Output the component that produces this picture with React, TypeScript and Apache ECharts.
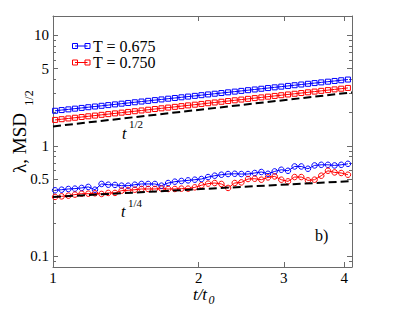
import React, { useEffect, useRef } from 'react';
import * as echarts from 'echarts';

// ---- data ----
const tValues = [1.01, 1.042, 1.076, 1.11, 1.146, 1.183, 1.221, 1.26, 1.301, 1.343, 1.386, 1.43, 1.476, 1.524, 1.573, 1.624, 1.676, 1.73, 1.786, 1.843, 1.902, 1.964, 2.027, 2.092, 2.159, 2.229, 2.301, 2.375, 2.451, 2.53, 2.612, 2.696, 2.782, 2.872, 2.964, 3.06, 3.158, 3.26, 3.365, 3.473, 3.585, 3.701, 3.82, 3.943, 4.07];

const msdBlue = [2.079, 2.11, 2.141, 2.173, 2.206, 2.239, 2.272, 2.306, 2.34, 2.375, 2.41, 2.446, 2.483, 2.52, 2.557, 2.596, 2.634, 2.674, 2.714, 2.754, 2.795, 2.837, 2.879, 2.922, 2.966, 3.01, 3.055, 3.1, 3.147, 3.194, 3.241, 3.29, 3.339, 3.389, 3.439, 3.49, 3.542, 3.595, 3.649, 3.703, 3.758, 3.814, 3.871, 3.929, 3.987];

const msdRed = [1.718, 1.744, 1.771, 1.798, 1.825, 1.853, 1.881, 1.91, 1.939, 1.969, 1.999, 2.029, 2.06, 2.092, 2.124, 2.156, 2.189, 2.222, 2.256, 2.291, 2.326, 2.361, 2.397, 2.434, 2.471, 2.509, 2.547, 2.586, 2.626, 2.666, 2.707, 2.748, 2.79, 2.833, 2.876, 2.92, 2.964, 3.01, 3.056, 3.102, 3.15, 3.198, 3.247, 3.296, 3.347];

const lambdaBlue = [0.396, 0.401, 0.407, 0.41, 0.416, 0.425, 0.401, 0.452, 0.445, 0.443, 0.436, 0.436, 0.445, 0.452, 0.452, 0.452, 0.436, 0.461, 0.474, 0.481, 0.487, 0.494, 0.501, 0.522, 0.537, 0.548, 0.556, 0.559, 0.556, 0.556, 0.568, 0.58, 0.559, 0.587, 0.608, 0.595, 0.651, 0.651, 0.621, 0.665, 0.674, 0.674, 0.665, 0.674, 0.688];

const lambdaRed = [0.345, 0.349, 0.354, 0.362, 0.369, 0.369, 0.372, 0.367, 0.375, 0.375, 0.393, 0.396, 0.401, 0.407, 0.407, 0.407, 0.41, 0.407, 0.407, 0.41, 0.41, 0.421, 0.44, 0.455, 0.461, 0.452, 0.416, 0.461, 0.467, 0.501, 0.504, 0.494, 0.518, 0.529, 0.494, 0.477, 0.522, 0.522, 0.487, 0.494, 0.537, 0.595, 0.575, 0.568, 0.548];

const guideT = [1, 4.15];
const guideHalf = [1.5, 3.05];
const guideQuarter = [0.345, 0.48];

const xRange = [1, 4.15];
const yRange = [0.08, 15];
const xTickValues = [1, 2, 3, 4];
const xTickLabels = ['1', '2', '3', '4'];
const yTickValues = [0.1, 0.5, 1, 5, 10];
const yTickLabels = ['0.1', '0.5', '1', '5', '10'];
const yMinorTicks = [0.09, 0.2, 0.3, 0.4, 0.6, 0.7, 0.8, 0.9, 2, 3, 4, 6, 7, 8, 9];

const seriesNames = ['T = 0.675', 'T = 0.750'];

// ---- helpers ----
const lg = (v: number) => Math.log10(v);
const FONT = 'Liberation Serif, Times New Roman, serif';
const AXIS_COLOR = '#6a6a6a';
const BLUE = '#0000ff';
const RED = '#ff0000';

function labelFor(v: number, values: number[], labels: string[]) {
  let best = 0;
  let d = Infinity;
  values.forEach((x, i) => {
    const dd = Math.abs(lg(x) - v);
    if (dd < d) {
      d = dd;
      best = i;
    }
  });
  return labels[best];
}

function xAxisCfg(position: string, showLabel: boolean) {
  return {
    type: 'value',
    position,
    min: lg(xRange[0]),
    max: lg(xRange[1]),
    axisLine: { show: true, onZero: false, lineStyle: { color: AXIS_COLOR, width: 1 } },
    axisTick: {
      show: true,
      inside: true,
      length: 5,
      customValues: xTickValues.map(lg),
      lineStyle: { color: AXIS_COLOR, width: 1 },
    },
    axisLabel: {
      show: showLabel,
      customValues: xTickValues.map(lg),
      formatter: (v: number) => labelFor(v, xTickValues, xTickLabels),
      margin: 3,
      fontSize: 15,
      fontFamily: FONT,
      color: '#000',
    },
    splitLine: { show: false },
  };
}

function yAxisCfg(position: string, showLabel: boolean, minor: boolean) {
  const ticks = minor ? yMinorTicks : yTickValues;
  return {
    type: 'value',
    position,
    min: lg(yRange[0]),
    max: lg(yRange[1]),
    axisLine: { show: !minor, onZero: false, lineStyle: { color: AXIS_COLOR, width: 1 } },
    axisTick: {
      show: true,
      inside: true,
      length: minor ? 3 : 5,
      customValues: ticks.map(lg),
      lineStyle: { color: AXIS_COLOR, width: 1 },
    },
    axisLabel: {
      show: showLabel,
      customValues: ticks.map(lg),
      formatter: (v: number) => labelFor(v, yTickValues, yTickLabels),
      margin: 4,
      fontSize: 15,
      fontFamily: FONT,
      color: '#000',
    },
    splitLine: { show: false },
  };
}

function pts(ys: number[]) {
  return tValues.map((t, i) => [lg(t), lg(ys[i])]);
}

function dataSeries(name: string, ys: number[], color: string, symbol: string, size: number) {
  return {
    name,
    type: 'line',
    xAxisIndex: 0,
    yAxisIndex: 0,
    data: pts(ys),
    symbol,
    symbolSize: size,
    showSymbol: true,
    lineStyle: { color, width: 1 },
    itemStyle: { color: 'rgba(0,0,0,0)', borderColor: color, borderWidth: 1 },
    emphasis: { disabled: true },
    z: 3,
  };
}

function guideSeries(name: string, ys: number[]) {
  return {
    name,
    type: 'line',
    xAxisIndex: 0,
    yAxisIndex: 0,
    data: guideT.map((t, i) => [lg(t), lg(ys[i])]),
    symbol: 'none',
    lineStyle: { color: '#000', width: 2, type: [8, 4] },
    emphasis: { disabled: true },
    z: 4,
  };
}

function txt(text: string, size: number, opts: any = {}) {
  return {
    text,
    fontSize: size,
    fontFamily: FONT,
    fontStyle: opts.italic ? 'italic' : 'normal',
    fill: '#000',
    align: opts.align || 'left',
    verticalAlign: opts.va || 'middle',
  };
}

function legendRow(y: number, color: string, text: string) {
  return [
    { type: 'line', shape: { x1: 75, y1: y, x2: 87.5, y2: y }, style: { stroke: color, lineWidth: 1 } },
    { type: 'rect', shape: { x: 72.5, y: y - 2.5, width: 5, height: 5 }, style: { stroke: color, fill: 'none', lineWidth: 1 } },
    { type: 'rect', shape: { x: 85, y: y - 2.5, width: 5, height: 5 }, style: { stroke: color, fill: 'none', lineWidth: 1 } },
    { type: 'text', x: 93, y, style: txt(text, 16) },
  ];
}

export default function App() {
  const ref = useRef<HTMLDivElement>(null);
  useEffect(() => {
    document.body.style.margin = '0';
    if (!ref.current) return;
    const chart = echarts.init(ref.current, null, { renderer: 'svg' });
    chart.setOption({
      animation: false,
      backgroundColor: '#fff',
      grid: { left: 53, right: 55, top: 16, bottom: 48, containLabel: false },
      xAxis: [xAxisCfg('bottom', true), xAxisCfg('top', false)],
      yAxis: [
        yAxisCfg('left', true, false),
        yAxisCfg('left', false, true),
        yAxisCfg('right', false, false),
        yAxisCfg('right', false, true),
      ],
      series: [
        dataSeries(seriesNames[0], msdBlue, BLUE, 'rect', 5),
        dataSeries(seriesNames[1], msdRed, RED, 'rect', 5),
        dataSeries('λ, ' + seriesNames[0], lambdaBlue, BLUE, 'circle', 5.5),
        dataSeries('λ, ' + seriesNames[1], lambdaRed, RED, 'circle', 5.5),
        guideSeries('t^1/2', guideHalf),
        guideSeries('t^1/4', guideQuarter),
      ],
      graphic: [
        ...legendRow(46, BLUE, seriesNames[0]),
        ...legendRow(62.5, RED, seriesNames[1]),
        { type: 'text', x: 122, y: 141, style: txt('t', 16, { italic: true, va: 'bottom' }) },
        { type: 'text', x: 129, y: 129, style: txt('1/2', 11, { va: 'bottom' }) },
        { type: 'text', x: 121, y: 219, style: txt('t', 16, { italic: true, va: 'bottom' }) },
        { type: 'text', x: 128, y: 208, style: txt('1/4', 11, { va: 'bottom' }) },
        { type: 'text', x: 315, y: 235, style: txt('b)', 16) },
        { type: 'text', x: 200, y: 294, style: txt('t/t', 17, { italic: true, align: 'center' }) },
        { type: 'text', x: 208.5, y: 300, style: txt('0', 12, { italic: true }) },
        { type: 'text', x: 19, y: 143, rotation: Math.PI / 2, style: txt('λ, MSD', 19, { align: 'center' }) },
        { type: 'text', x: 29, y: 98, rotation: Math.PI / 2, style: txt('1/2', 12, { align: 'center' }) },
      ],
    });
    return () => chart.dispose();
  }, []);
  return <div ref={ref} style={{ width: 407, height: 315 }} />;
}
